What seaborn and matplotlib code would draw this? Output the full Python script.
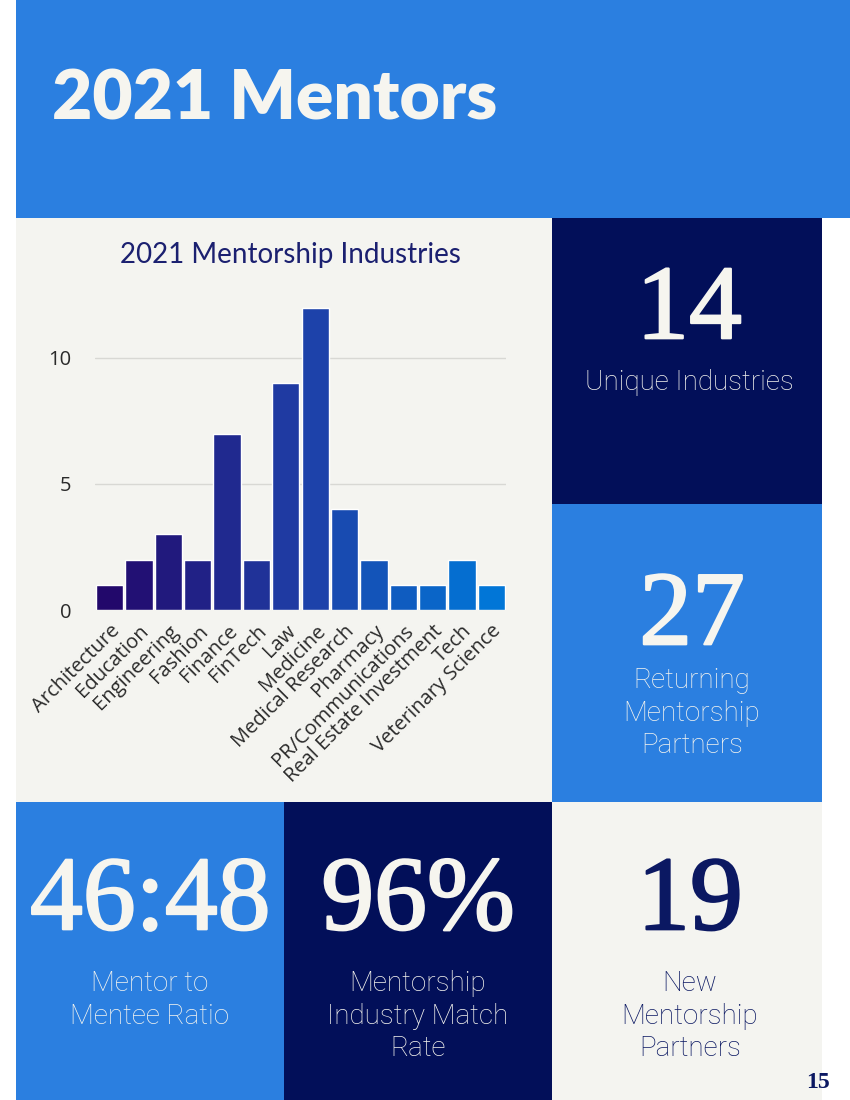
import matplotlib
matplotlib.use('Agg')
import matplotlib.pyplot as plt
import matplotlib.patheffects as pe
from matplotlib.patches import Rectangle
import seaborn as sns

sns.set_style('whitegrid')
plt.rcParams['font.family'] = ['Lato', 'DejaVu Sans']

W, H = 850, 1100

industries = ['Architecture', 'Education', 'Engineering', 'Fashion', 'Finance',
              'FinTech', 'Law', 'Medicine', 'Medical Research', 'Pharmacy',
              'PR/Communications', 'Real Estate Investment', 'Tech',
              'Veterinary Science']
counts = [1, 2, 3, 2, 7, 2, 9, 12, 4, 2, 1, 1, 2, 1]
y_ticks = [0, 5, 10]

# stat tiles: (big number, caption lines)
stat_unique = ('14', 'Unique Industries')
stat_returning = ('27', 'Returning\nMentorship\nPartners')
stat_ratio = ('46:48', 'Mentor to\nMentee Ratio')
stat_match = ('96%', 'Mentorship\nIndustry Match\nRate')
stat_new = ('19', 'New\nMentorship\nPartners')

BLUE = '#2b7fe0'
NAVY = '#020f59'
LIGHT = '#f4f4f0'
OFFWHITE = '#f6f5ef'
INK = '#0b1862'

fig = plt.figure(figsize=(W / 100, H / 100), dpi=100)
fig.patch.set_facecolor('white')


def fx(px):
    return px / W


def fy(py):
    return 1 - py / H


def block(x0, y0, x1, y1, color):
    fig.patches.append(Rectangle((fx(x0), fy(y1)), fx(x1) - fx(x0), fy(y0) - fy(y1),
                                 transform=fig.transFigure, facecolor=color,
                                 edgecolor='none', zorder=-5))


block(16, 0, 850, 218, BLUE)
block(16, 218, 552, 802, LIGHT)
block(552, 218, 822, 504, NAVY)
block(552, 504, 822, 802, BLUE)
block(16, 802, 284, 1100, BLUE)
block(284, 802, 552, 1100, NAVY)
block(552, 802, 822, 1100, LIGHT)

fig.text(fx(52), fy(100), '2021 Mentors', color=OFFWHITE, fontsize=50,
         fontweight='heavy', va='center', ha='left')

# bar chart
ax = fig.add_axes([fx(95), fy(610), fx(506) - fx(95), (610 - 300) / H])
ax.set_zorder(5)
ax.set_facecolor(LIGHT)
palette = sns.blend_palette(['#22086b', '#1f3ea6', '#0176d7'], len(industries))
sns.barplot(x=industries, y=counts, hue=industries, palette=palette, legend=False,
            saturation=1, width=0.93, ax=ax, zorder=2)
ax.set_ylim(0, 12.3)
ax.set_xlim(-0.5, len(industries) - 0.5)
ax.set_yticks(y_ticks)
ax.grid(axis='y', color='#d8d8d4', linewidth=1)
ax.grid(axis='x', visible=False)
ax.set_axisbelow(True)
for s in ax.spines.values():
    s.set_visible(False)
ax.set_xlabel('')
ax.set_ylabel('')
ax.tick_params(axis='y', length=0, pad=17, labelsize=14.5, labelcolor='#2a2a2a')
ax.tick_params(axis='x', length=0, pad=8, labelsize=14.5, labelcolor='#2a2a2a')
for lbl in ax.get_yticklabels():
    lbl.set_fontfamily(['Open Sans', 'DejaVu Sans'])
ax.set_xticks(range(len(industries)))
ax.set_xticklabels(industries, rotation=45, ha='right', rotation_mode='anchor',
                   family=['Open Sans', 'DejaVu Sans'])
fig.text(fx(290), fy(255), '2021 Mentorship Industries', color='#1b2070',
         fontsize=20, ha='center', va='center')


def stat(cx, cy_num, cy_text, tile, num_color, text_color):
    num, caption = tile
    fig.text(fx(cx), fy(cy_num), num, color=num_color, fontsize=76,
             family=['Liberation Serif', 'DejaVu Serif'], ha='center', va='center',
             path_effects=[pe.withStroke(linewidth=1.6, foreground=num_color)])
    fig.text(fx(cx), fy(cy_text), caption, color=text_color, fontsize=20,
             family=['Roboto', 'Lato', 'DejaVu Sans'], fontweight='light',
             ha='center', va='top', linespacing=1.27)


stat(689, 313, 369, stat_unique, OFFWHITE, OFFWHITE)
stat(692, 619, 667, stat_returning, OFFWHITE, OFFWHITE)
stat(150, 904, 970, stat_ratio, OFFWHITE, OFFWHITE)
stat(418, 904, 970, stat_match, OFFWHITE, OFFWHITE)
stat(690, 904, 970, stat_new, INK, INK)

fig.text(fx(818), fy(1082), '15', color=INK, fontsize=17, fontweight='bold',
         family=['Liberation Serif', 'DejaVu Serif'], ha='center', va='center')

fig.savefig('out.png', dpi=100, facecolor='white')
